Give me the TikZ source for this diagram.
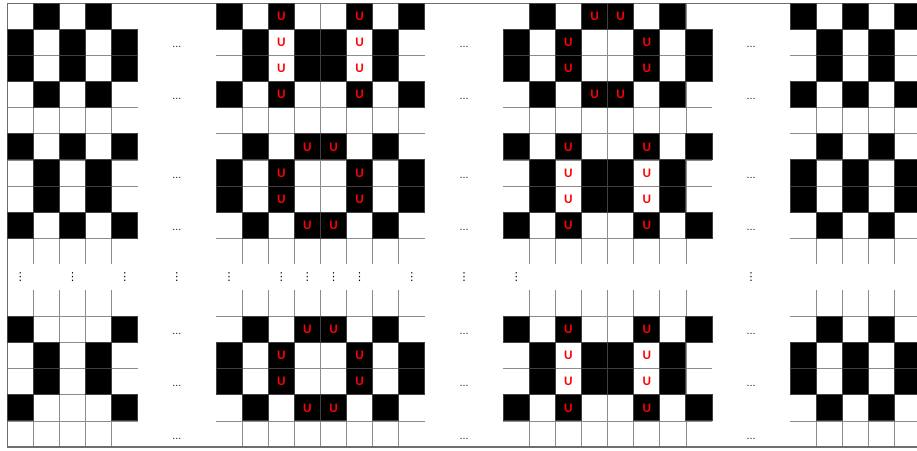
\documentclass[tikz,border=0pt]{standalone}
\usepackage{fontspec}
\newfontfamily\ufont{Carlito}
\newfontfamily\dvfont{DejaVu Sans}
\definecolor{gridgray}{HTML}{8C8C8C}
\definecolor{celledge}{HTML}{404040}
\definecolor{framegray}{HTML}{6E6E6E}
\definecolor{ured}{HTML}{FF0000}
\begin{document}
\begin{tikzpicture}[x=1pt,y=-1pt,
  gridline/.style={draw=gridgray,line width=0.8pt},
  frameline/.style={draw=framegray,line width=1.2pt},
  blackcell/.style={fill=black,draw=celledge,line width=0.9pt},
  ulabel/.style={text=ured,font=\ufont\bfseries\fontsize{13}{13}\selectfont,inner sep=0pt},
  hdots/.style={font=\dvfont\fontsize{9}{9}\selectfont,inner sep=0pt,anchor=base},
  vdotsnode/.style={font=\dvfont\fontsize{11}{11}\selectfont,inner sep=0pt}]
\useasboundingbox (0,0) rectangle (917,450);
\clip (0,0) rectangle (917,450);
\begin{scope}[shift={(7.3,3.3)},x=26.1pt,y=-26.1pt]
  % grid lines of the four blocks
  \foreach \a/\b/\s/\e in {0/5/1/4, 8/16/9/15, 19/27/20/26, 30/35/31/34} {
    \foreach \j in {1,2,3,4,5,6,7,8,9,12,13,14,15,16}
      \draw[gridline] (\a,\j) -- (\b,\j);
    \foreach \i in {\s,...,\e} {
      \draw[gridline] (\i,0) -- (\i,10);
      \draw[gridline] (\i,11) -- (\i,17);
    }
  }
  % frame
  \draw[frameline] (0,0) -- (36,0);
  \draw[frameline] (0,17) -- (36,17);
  \draw[frameline] (0,0) -- (0,17);
  % black cells
  \foreach \j/\cols in {
      0/{1,3,8,10,13,15,20,22,23,25,30,32,34},
      1/{0,2,4,9,11,12,14,19,21,24,26,31,33},
      2/{0,2,4,9,11,12,14,19,21,24,26,31,33},
      3/{1,3,8,10,13,15,20,22,23,25,30,32,34},
      5/{0,2,4,9,11,12,14,19,21,24,26,31,33},
      6/{1,3,8,10,13,15,20,22,23,25,30,32,34},
      7/{1,3,8,10,13,15,20,22,23,25,30,32,34},
      8/{0,2,4,9,11,12,14,19,21,24,26,31,33},
      12/{0,4,9,11,12,14,19,21,24,26,31,33},
      13/{1,3,8,10,13,15,20,22,23,25,30,32,34},
      14/{1,3,8,10,13,15,20,22,23,25,30,32,34},
      15/{0,4,9,11,12,14,19,21,24,26,31,33}}
    \foreach \i in \cols
      \draw[blackcell] (\i,\j) rectangle ++(1,1);
  % U labels
  \foreach \j/\cols in {
      0/{10,13,22,23},
      1/{10,13,21,24},
      2/{10,13,21,24},
      3/{10,13,22,23},
      5/{11,12,21,24},
      6/{10,13,21,24},
      7/{10,13,21,24},
      8/{11,12,21,24},
      12/{11,12,21,24},
      13/{10,13,21,24},
      14/{10,13,21,24},
      15/{11,12,21,24}}
    \foreach \i in \cols
      \node[ulabel] (u-\i-\j) at (\i+0.5,\j+0.5) {U};
  % horizontal ellipses
  \foreach \i in {6,17,28}
    \foreach \j in {1,3,6,8,12,14,16}
      \node[hdots] (h-\i-\j) at (\i+0.5,\j+0.7) {…};
  % vertical ellipses
  \foreach \i in {0,2,4,6,8,10,11,12,13,15,17,19,28}
    \node[vdotsnode] (v-\i) at (\i+0.5,10.5) {⋮};
\end{scope}
\end{tikzpicture}
\end{document}
